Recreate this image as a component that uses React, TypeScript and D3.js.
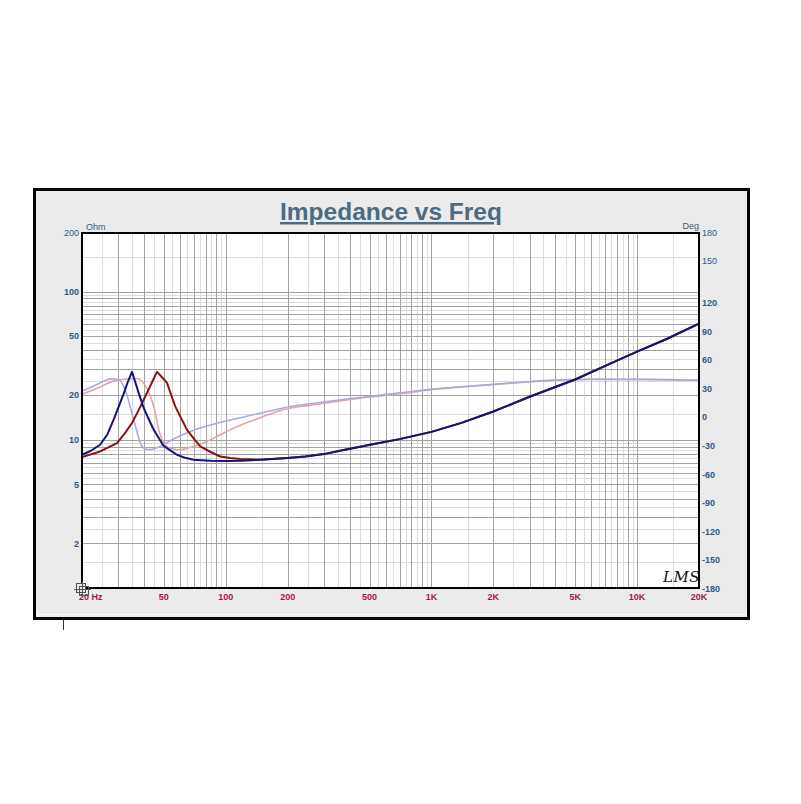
import React from "react";
import * as d3 from "d3";

// ---- data ----
const freqTicks = [20, 50, 100, 200, 500, 1000, 2000, 5000, 10000, 20000];
const freqLabels = ["20 Hz", "50", "100", "200", "500", "1K", "2K", "5K", "10K", "20K"];
const ohmTicks = [200, 100, 50, 20, 10, 5, 2];
const degTicks = [180, 150, 120, 90, 60, 30, 0, -30, -60, -90, -120, -150, -180];

// navy impedance (Hz, ohm)
const blueImpedance: [number, number][] = [
  [20, 7.92], [22, 8.4], [24.5, 9.25], [26.5, 10.8], [28.5, 13.65], [30.3, 17.0],
  [31.9, 20.5], [33.5, 24.8], [35, 28.7], [36.3, 24.5], [37.7, 20.7], [39.9, 16.4],
  [42, 13.97], [44.6, 11.7], [47, 10.4], [49.8, 9.11], [53.5, 8.51], [57.9, 7.92],
  [63.5, 7.55], [69.7, 7.33], [84, 7.21], [100, 7.2], [120, 7.23], [147, 7.33],
  [200, 7.52], [243, 7.71], [300, 8.0], [380, 8.56], [503, 9.25], [700, 10.1],
  [1000, 11.3], [1400, 13.0], [2000, 15.5], [3000, 19.5], [5000, 25.5], [7000, 31.5],
  [10000, 39.3], [14000, 48.0], [20000, 60.8],
];
// dark red impedance (Hz, ohm)
const redImpedance: [number, number][] = [
  [20, 7.64], [24.5, 8.34], [29.6, 9.5], [32.3, 11.05], [35, 12.97], [37.5, 15.6],
  [39.9, 18.6], [42.5, 22.4], [44.5, 25.6], [46.3, 28.7], [48.5, 26.8], [51.8, 24.2],
  [54, 20.5], [56.8, 16.8], [60.5, 14.1], [64.7, 11.7], [69.5, 10.3], [75.1, 9.01],
  [84, 8.3], [94, 7.71], [105, 7.52], [117.5, 7.41], [147, 7.33], [200, 7.52],
  [243, 7.71], [300, 8.0], [380, 8.56], [503, 9.25], [700, 10.1], [1000, 11.3],
  [1400, 13.0], [2000, 15.5], [3000, 19.5], [5000, 25.5], [7000, 31.5], [10000, 39.3],
  [14000, 48.0], [20000, 60.8],
];
// lavender phase (Hz, deg)
const bluePhase: [number, number][] = [
  [20, 27.5], [22, 31.3], [24.5, 36], [26.5, 39.3], [27.6, 40.3], [29, 40.2],
  [30.4, 39.4], [31.8, 33], [33.1, 23], [34.3, 11], [35.6, -2.1], [37, -15],
  [38.4, -27.2], [39.5, -31.5], [40.6, -33.4], [42.5, -34], [44.6, -33.4], [47, -31.5],
  [49.8, -28.7], [54.5, -24], [60.1, -19.5], [66, -15.8], [72.4, -12.5], [80, -9.5],
  [90.6, -6.3], [105, -3], [122, 0.3], [152.6, 4.9], [205.6, 11.2], [280, 15.2],
  [380, 18.8], [500, 21.8], [704, 25.6], [1000, 29.3], [1400, 32], [2000, 34.5],
  [3000, 37.3], [4200, 39.2], [6000, 39.8], [10000, 39.7], [16000, 39.2], [20000, 38.7],
];
// pink phase (Hz, deg)
const redPhase: [number, number][] = [
  [20, 24.0], [24, 31], [28.5, 37.9], [32, 39.8], [37, 40.4], [39, 38.3], [40.6, 33.4],
  [42.6, 24], [44.6, 11.8], [46, -1], [47.1, -12.5], [48.4, -20.5], [49.8, -26.4],
  [51.7, -30.5], [53.7, -32.7], [58.9, -34.2], [63, -33.5], [67.2, -31.7], [73.5, -29.2],
  [81, -25.5], [94, -18.5], [108, -12], [124.3, -6.3], [147, -0.5], [170, 4.5],
  [194, 8.4], [235, 11.5], [282, 13.6], [380, 17.8], [500, 21.2], [704, 24.6],
  [1000, 29.0], [1400, 31.8], [2000, 34.3], [3000, 37.2], [4200, 39.1], [6000, 39.7],
  [10000, 39.7], [16000, 39.2], [20000, 38.7],
];

const X0 = 82, X1 = 699, Y0 = 233, Y1 = 588;

export default function App() {
  const x = d3.scaleLog().domain([20, 20000]).range([X0, X1]);
  const yOhm = d3.scaleLog().domain([1, 100, 200]).range([Y1, 291.5, Y0]);
  const yDeg = d3.scaleLinear().domain([-180, 120, 150, 180]).range([588.5, 303, 261, Y0]);

  // grid values
  const vMajor: number[] = [], vMinor: number[] = [];
  [10, 100, 1000, 10000].forEach((d) => {
    for (let k = 1; k <= 9; k++) {
      const m = k * d, n = (k + 0.5) * d;
      if (m > 20 && m < 20000) vMajor.push(m);
      if (n > 20 && n < 20000) vMinor.push(n);
    }
  });
  const hMajor: number[] = [], hMinor: number[] = [];
  [1, 10, 100].forEach((d) => {
    for (let k = 1; k <= 9; k++) {
      const m = k * d, n = (k + 0.5) * d;
      if (m > 1 && m < 200) hMajor.push(m);
      if (n > 1 && n < 200) hMinor.push(n);
    }
  });

  const lineOhm = d3.line<[number, number]>().x((d) => x(d[0])).y((d) => yOhm(d[1])).curve(d3.curveLinear);
  const lineDeg = d3.line<[number, number]>().x((d) => x(d[0])).y((d) => yDeg(d[1])).curve(d3.curveMonotoneX);

  const font = "'Liberation Sans', Arial, sans-serif";
  const blueTxt = "#2b5a88";
  const redTxt = "#a3174f";

  return (
    <svg width={801} height={804} style={{ position: "absolute", left: 0, top: 0, background: "#fff" }}>
      <rect x={0} y={0} width={801} height={804} fill="#fff" />
      {/* panel */}
      <rect x={34.5} y={189.5} width={714} height={429} fill="#ebebeb" stroke="#000" strokeWidth={3} />
      <line x1={36} x2={747} y1={614.5} y2={614.5} stroke="#f8f8f8" strokeWidth={1} />
      <line x1={63.5} x2={63.5} y1={620} y2={630} stroke="#333" strokeWidth={1} />

      {/* title */}
      <text x={391} y={220} textAnchor="middle" fontFamily={font} fontWeight="bold" fontSize={24.5}
        fill="#4b6c84" textDecoration="underline">Impedance vs Freq</text>

      {/* plot area */}
      <rect x={X0} y={Y0} width={X1 - X0} height={Y1 - Y0} fill="#fff" />
      <g shapeRendering="crispEdges">
        {vMinor.map((v) => (
          <line key={"vm" + v} x1={Math.round(x(v)) + 0.5} x2={Math.round(x(v)) + 0.5} y1={Y0} y2={Y1} stroke="#dcdcdc" />
        ))}
        {hMinor.map((v) => (
          <line key={"hm" + v} x1={X0} x2={X1} y1={Math.round(yOhm(v)) + 0.5} y2={Math.round(yOhm(v)) + 0.5} stroke="#dcdcdc" />
        ))}
        {vMajor.map((v) => (
          <line key={"vM" + v} x1={Math.round(x(v)) + 0.5} x2={Math.round(x(v)) + 0.5} y1={Y0} y2={Y1} stroke="#a2a2a2" />
        ))}
        {hMajor.map((v) => (
          <line key={"hM" + v} x1={X0} x2={X1} y1={Math.round(yOhm(v)) + 0.5} y2={Math.round(yOhm(v)) + 0.5} stroke="#a2a2a2" />
        ))}
      </g>

      {/* curves */}
      <g fill="none" strokeLinejoin="round">
        <path d={lineDeg(redPhase) || ""} stroke="#dfa6a6" strokeWidth={1.6} />
        <path d={lineDeg(bluePhase) || ""} stroke="#a9a9dc" strokeWidth={1.6} />
        <path d={lineOhm(redImpedance) || ""} stroke="#861414" strokeWidth={2} />
        <path d={lineOhm(blueImpedance) || ""} stroke="#14147a" strokeWidth={2} />
      </g>

      {/* plot border */}
      <rect x={X0} y={Y0} width={X1 - X0} height={Y1 - Y0} fill="none" stroke="#000" strokeWidth={2} />

      {/* left axis */}
      <text x={86} y={230} fontFamily={font} fontSize={9} fill="#3c5a78">Ohm</text>
      {ohmTicks.map((t) => (
        <text key={"o" + t} x={79} y={yOhm(t) + 3.2} textAnchor="end" fontFamily={font}
          fontWeight={t === 200 ? "normal" : "bold"} fontSize={9} fill={blueTxt}>{t}</text>
      ))}

      {/* right axis */}
      <text x={699} y={229} textAnchor="end" fontFamily={font} fontSize={9} fill="#3c5a78">Deg</text>
      {degTicks.map((t) => (
        <text key={"d" + t} x={702} y={yDeg(t) + 3.2} fontFamily={font}
          fontWeight={t >= 150 ? "normal" : "bold"} fontSize={9} fill={blueTxt}>{t}</text>
      ))}

      {/* bottom axis */}
      {freqTicks.map((t, i) => (
        <text key={"f" + t} x={i === 0 ? 79 : x(t)} y={600} textAnchor={i === 0 ? "start" : "middle"}
          fontFamily={font} fontWeight="bold" fontSize={9} fill={redTxt} xmlSpace="preserve">{freqLabels[i]}</text>
      ))}

      {/* corner icon */}
      <g fill="none" stroke="#555" strokeWidth={1}>
        <rect x={76.5} y={583.5} width={9} height={9} fill="#e8e8e8" />
        <rect x={79.5} y={586.5} width={9} height={9} />
        <line x1={74} x2={91} y1={589.5} y2={589.5} />
        <line x1={82.5} x2={82.5} y1={581} y2={597} />
      </g>

      {/* LMS logo */}
      <text x={663} y={582} fontFamily="'DejaVu Serif', serif" fontStyle="italic" fontSize={15}
        fill="#111" letterSpacing={0.5}>LMS</text>
    </svg>
  );
}
